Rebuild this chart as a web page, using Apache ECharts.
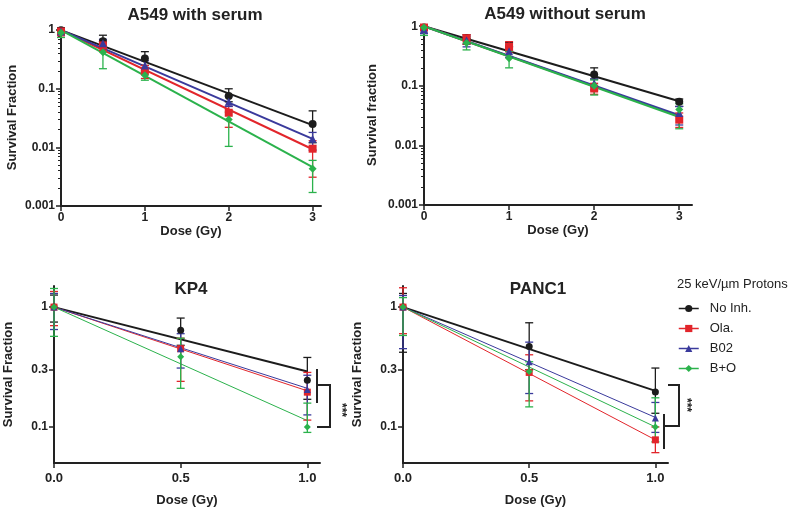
<!DOCTYPE html>
<html>
<head>
<meta charset="utf-8">
<script src="https://cdn.jsdelivr.net/npm/echarts@6/dist/echarts.min.js"></script>
<style>
  html, body { margin: 0; padding: 0; background: #fff; }
  #main { width: 800px; height: 509px; }
</style>
</head>
<body>
<div id="main"></div>
<script>
// groups: No Inh., Ola., B02, B+O
const groupNames = ['No Inh.', 'Ola.', 'B02', 'B+O'];
const groupColors = ['#1c1c1c', '#e2252b', '#3a3a9c', '#2bb24c'];
const groupSymbols = ['circle', 'rect', 'triangle', 'diamond'];

const doseTop = [0, 0.5, 1, 2, 3];
const doseBottom = [0, 0.5, 1];

// A549 with serum
const serumMean = [
  [1, 0.65, 0.33, 0.075, 0.025],
  [0.95, 0.55, 0.2, 0.039, 0.0095],
  [0.95, 0.6, 0.25, 0.06, 0.014],
  [0.9, 0.42, 0.17, 0.03, 0.0043]
];
const serumLow = [
  [0.85, 0.5, 0.25, 0.06, 0.012],
  [0.8, 0.45, 0.15, 0.022, 0.0031],
  [0.85, 0.5, 0.2, 0.05, 0.009],
  [0.75, 0.22, 0.14, 0.0104, 0.0017]
];
const serumHigh = [
  [1.1, 0.82, 0.43, 0.1, 0.042],
  [1.05, 0.65, 0.25, 0.05, 0.013],
  [1.05, 0.7, 0.3, 0.075, 0.018],
  [1.0, 0.55, 0.2, 0.04, 0.006]
];
const serumFit = [[1, 0.024], [1, 0.0093], [1, 0.014], [1, 0.0046]];

// A549 without serum
const noSerumMean = [
  [0.95, 0.62, 0.45, 0.155, 0.054],
  [0.95, 0.62, 0.45, 0.09, 0.027],
  [0.9, 0.58, 0.38, 0.11, 0.035],
  [0.95, 0.52, 0.29, 0.1, 0.04]
];
const noSerumLow = [
  [0.85, 0.5, 0.38, 0.13, 0.045],
  [0.85, 0.5, 0.37, 0.072, 0.02],
  [0.75, 0.45, 0.3, 0.085, 0.022],
  [0.7, 0.4, 0.2, 0.07, 0.019]
];
const noSerumHigh = [
  [1.05, 0.72, 0.53, 0.2, 0.06],
  [1.05, 0.72, 0.55, 0.11, 0.035],
  [1.0, 0.68, 0.45, 0.13, 0.045],
  [1.05, 0.62, 0.38, 0.125, 0.05]
];
const noSerumFit = [[1, 0.055], [1, 0.031], [1, 0.032], [1, 0.030]];

// KP4
const kp4Mean = [
  [1, 0.64, 0.245],
  [1, 0.45, 0.195],
  [1, 0.45, 0.205],
  [1, 0.385, 0.1]
];
const kp4Low = [
  [0.75, 0.48, 0.17],
  [0.7, 0.24, 0.114],
  [0.65, 0.31, 0.126],
  [0.57, 0.21, 0.09]
];
const kp4High = [
  [1.26, 0.81, 0.38],
  [1.35, 0.55, 0.285],
  [1.3, 0.6, 0.27],
  [1.43, 0.55, 0.158]
];
const kp4Fit = [[1, 0.29], [1, 0.2], [1, 0.21], [1, 0.113]];

// PANC1
const panc1Mean = [
  [1, 0.47, 0.196],
  [1, 0.285, 0.078],
  [1, 0.35, 0.119],
  [1, 0.29, 0.1]
];
const panc1Low = [
  [0.42, 0.3, 0.13],
  [0.6, 0.165, 0.061],
  [0.45, 0.19, 0.09],
  [0.58, 0.147, 0.075]
];
const panc1High = [
  [1.3, 0.74, 0.31],
  [1.45, 0.4, 0.1],
  [1.25, 0.51, 0.16],
  [1.2, 0.35, 0.175]
];
const panc1Fit = [[1, 0.2], [1, 0.078], [1, 0.12], [1, 0.1]];

const font = "'Liberation Sans', Arial, sans-serif";
const ink = '#222';
const lg = Math.log10;

const panels = [
  { dose: doseTop, mean: serumMean, low: serumLow, high: serumHigh, fit: serumFit, fitX: 3, top: true },
  { dose: doseTop, mean: noSerumMean, low: noSerumLow, high: noSerumHigh, fit: noSerumFit, fitX: 3, top: true },
  { dose: doseBottom, mean: kp4Mean, low: kp4Low, high: kp4High, fit: kp4Fit, fitX: 1, top: false },
  { dose: doseBottom, mean: panc1Mean, low: panc1Low, high: panc1High, fit: panc1Fit, fitX: 1, top: false }
];

const grids = [
  { left: 61, top: 29, width: 260, height: 177 },
  { left: 424, top: 25, width: 268, height: 180 },
  { left: 54, top: 286, width: 266, height: 177 },
  { left: 403, top: 286, width: 265, height: 177 }
];

const minorTicks = [];
for (let n = -3; n < 0; n++) {
  for (let k = 2; k <= 9; k++) minorTicks.push(lg(k * Math.pow(10, n)));
}

const fmtPow = v => String(parseFloat(Math.pow(10, v).toPrecision(3)));

const axisLineStyle = { show: true, lineStyle: { color: ink, width: 2 } };
const tickStyle = { show: true, inside: false, length: 5, lineStyle: { color: ink, width: 1.5 } };
const labelStyle = { color: ink, fontFamily: font, fontWeight: 'bold', fontSize: 12, margin: 6 };
const nameStyle = { color: ink, fontFamily: font, fontWeight: 'bold', fontSize: 13 };

const xMax = [3.1, 3.15, 1.05, 1.05];
const xNameGap = [17, 17, 31, 31];
const yNames = ['Survival Fraction', 'Survival fraction', 'Survival Fraction', 'Survival Fraction'];
const yNameGap = [42, 45, 39, 39];

const xAxes = panels.map((p, i) => ({
  type: 'value', gridIndex: i, min: 0, max: xMax[i],
  name: 'Dose (Gy)', nameLocation: 'middle', nameGap: xNameGap[i], nameTextStyle: nameStyle,
  axisLine: Object.assign({ onZero: false }, axisLineStyle),
  axisTick: Object.assign({ customValues: p.top ? [0, 1, 2, 3] : [0, 0.5, 1] }, tickStyle),
  axisLabel: Object.assign({}, labelStyle, {
    customValues: p.top ? [0, 1, 2, 3] : [0, 0.5, 1],
    formatter: v => p.top ? String(v) : v.toFixed(1),
    fontSize: p.top ? 12 : 13,
    margin: p.top ? 6 : 9
  }),
  splitLine: { show: false }
}));

const yAxes = [];
const yIndex = [];
panels.forEach((p, i) => {
  yIndex.push(yAxes.length);
  const vals = p.top ? [-3, -2, -1, 0] : [lg(0.1), lg(0.3), 0];
  yAxes.push({
    type: 'value', gridIndex: i, position: 'left',
    min: p.top ? -3 : lg(0.05), max: p.top ? 0.02 : lg(1.5),
    name: yNames[i], nameLocation: 'middle', nameGap: yNameGap[i], nameTextStyle: nameStyle,
    axisLine: Object.assign({ onZero: false }, axisLineStyle),
    axisTick: Object.assign({ customValues: vals }, tickStyle),
    axisLabel: Object.assign({ customValues: vals, formatter: fmtPow }, labelStyle),
    splitLine: { show: false }
  });
  if (p.top) {
    yAxes.push({
      type: 'value', gridIndex: i, position: 'left', min: -3, max: 0.02,
      axisLine: { show: false },
      axisTick: { show: true, customValues: minorTicks, length: 3, lineStyle: { color: ink, width: 1 } },
      axisLabel: { show: false },
      splitLine: { show: false }
    });
  }
});

function renderErr(params, api) {
  const x = api.value(0);
  const pLo = api.coord([x, api.value(1)]);
  const pHi = api.coord([x, api.value(2)]);
  const w = 4;
  const style = { stroke: api.visual('color'), lineWidth: 1.3 };
  return {
    type: 'group',
    children: [
      { type: 'line', shape: { x1: pLo[0], y1: pLo[1], x2: pHi[0], y2: pHi[1] }, style },
      { type: 'line', shape: { x1: pLo[0] - w, y1: pLo[1], x2: pLo[0] + w, y2: pLo[1] }, style },
      { type: 'line', shape: { x1: pHi[0] - w, y1: pHi[1], x2: pHi[0] + w, y2: pHi[1] }, style }
    ]
  };
}

const series = [];
panels.forEach((p, pi) => {
  groupNames.forEach((g, gi) => {
    series.push({
      name: g + ' fit', type: 'line', xAxisIndex: pi, yAxisIndex: yIndex[pi],
      data: [[0, lg(p.fit[gi][0])], [p.fitX, lg(p.fit[gi][1])]],
      symbol: 'none', silent: true, z: 2,
      lineStyle: { color: groupColors[gi], width: p.top || gi === 0 ? 2 : 1 }
    });
  });
});
panels.forEach((p, pi) => {
  groupNames.forEach((g, gi) => {
    series.push({
      name: g + ' err', type: 'custom', xAxisIndex: pi, yAxisIndex: yIndex[pi],
      renderItem: renderErr, z: 3, silent: true,
      itemStyle: { color: groupColors[gi], opacity: p.top ? 1 : 0.75 },
      encode: { x: 0, y: [1, 2] },
      data: p.dose.map((d, k) => [d, lg(p.low[gi][k]), lg(p.high[gi][k])])
    });
  });
});
panels.forEach((p, pi) => {
  groupNames.forEach((g, gi) => {
    series.push({
      name: g, type: 'line', xAxisIndex: pi, yAxisIndex: yIndex[pi],
      data: p.dose.map((d, k) => [d, lg(p.mean[gi][k])]),
      symbol: groupSymbols[gi], symbolSize: p.top ? 8 : 7, z: 4,
      itemStyle: { color: groupColors[gi] },
      lineStyle: { color: groupColors[gi], width: 0, opacity: 0 }
    });
  });
});

const titleStyle = { color: ink, fontFamily: font, fontWeight: 'bold', fontSize: 17 };

const chart = echarts.init(document.getElementById('main'), null, { renderer: 'canvas' });
chart.setOption({
  animation: false,
  backgroundColor: '#fff',
  title: [
    { text: 'A549 with serum', left: 190, top: 2, textAlign: 'center', textStyle: titleStyle },
    { text: 'A549 without serum', left: 560, top: 1, textAlign: 'center', textStyle: titleStyle },
    { text: 'KP4', left: 186, top: 276, textAlign: 'center', textStyle: titleStyle },
    { text: 'PANC1', left: 533, top: 276, textAlign: 'center', textStyle: titleStyle },
    { text: '25 keV/\u00b5m Protons', left: 672, top: 273, textStyle: { color: ink, fontFamily: font, fontWeight: 'normal', fontSize: 13 } }
  ],
  legend: {
    data: groupNames, orient: 'vertical', left: 673, top: 297,
    itemWidth: 20, itemHeight: 9, itemGap: 7, selectedMode: false,
    lineStyle: { width: 1.5, opacity: 1 },
    textStyle: { color: ink, fontFamily: font, fontSize: 13, padding: [0, 0, 0, 6] }
  },
  grid: grids,
  xAxis: xAxes,
  yAxis: yAxes,
  series: series,
  graphic: [
    { type: 'line', shape: { x1: 317, y1: 369, x2: 317, y2: 403 }, style: { stroke: ink, lineWidth: 2 } },
    { type: 'polyline', shape: { points: [[317, 385], [330, 385], [330, 427], [317, 427]] }, style: { stroke: ink, lineWidth: 2, fill: null } },
    { type: 'text', x: 341, y: 410, rotation: -Math.PI / 2, style: { text: '***', fill: ink, font: 'bold 12px ' + font, align: 'center', verticalAlign: 'middle' } },
    { type: 'polyline', shape: { points: [[668, 385], [679, 385], [679, 426], [665, 426]] }, style: { stroke: ink, lineWidth: 2, fill: null } },
    { type: 'line', shape: { x1: 664, y1: 414, x2: 664, y2: 449 }, style: { stroke: ink, lineWidth: 2 } },
    { type: 'text', x: 686, y: 405, rotation: -Math.PI / 2, style: { text: '***', fill: ink, font: 'bold 12px ' + font, align: 'center', verticalAlign: 'middle' } }
  ]
});
</script>
</body>
</html>
